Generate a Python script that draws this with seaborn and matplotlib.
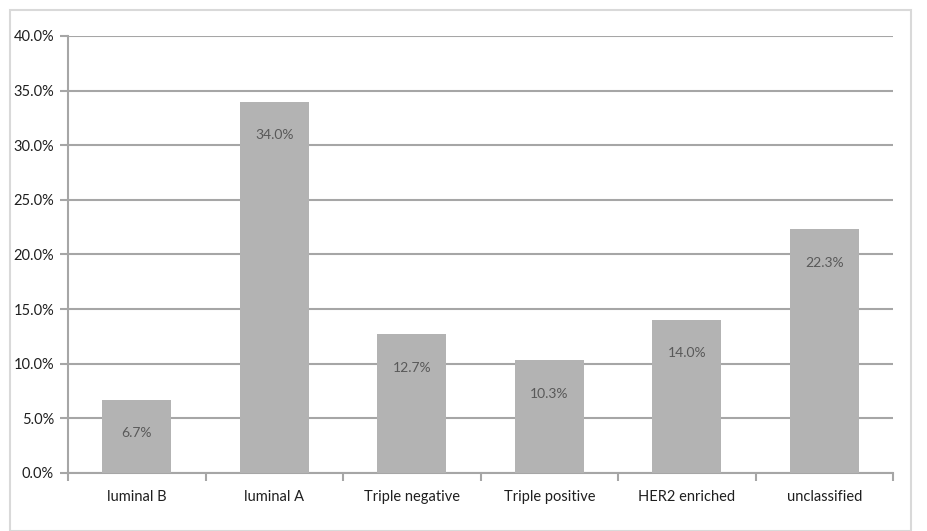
import matplotlib
matplotlib.use("Agg")
import matplotlib.pyplot as plt
from matplotlib.patches import Rectangle
from matplotlib.ticker import FuncFormatter, FixedLocator
import seaborn as sns
import pandas as pd

subtypes = ["luminal B", "luminal A", "Triple negative", "Triple positive",
            "HER2 enriched", "unclassified"]
percent = [6.7, 34.0, 12.7, 10.3, 14.0, 22.3]
y_ticks = [0, 5, 10, 15, 20, 25, 30, 35, 40]

df = pd.DataFrame({"subtype": subtypes, "percent": percent})

sns.set_theme(style="white")
plt.rcParams["font.family"] = ["Lato", "DejaVu Sans"]

fig = plt.figure(figsize=(9.27, 5.31), dpi=100)
fig.patch.set_facecolor("white")
ax = fig.add_axes([68 / 927, 1 - 473 / 531, 825 / 927, 437 / 531])

sns.barplot(data=df, x="subtype", y="percent", color="#b3b3b3",
            saturation=1, width=0.5, ax=ax, zorder=3)
for p in ax.patches:
    p.set_edgecolor("none")

ax.set_xlim(-0.5, len(subtypes) - 0.5)
ax.set_ylim(0, 40)
ax.set_yticks(y_ticks)
ax.yaxis.set_major_formatter(FuncFormatter(lambda v, _: f"{v:.1f}%"))
ax.grid(axis="y", color="#a6a6a6", linewidth=1.5, zorder=0)
ax.set_axisbelow(True)

# category separators on the x axis
ax.xaxis.set_minor_locator(FixedLocator([i - 0.5 for i in range(len(subtypes) + 1)]))
ax.tick_params(axis="x", which="major", length=0, pad=12, labelsize=10.5, labelcolor="#1f1f1f")
ax.tick_params(axis="x", which="minor", length=6, width=1.5, color="#a6a6a6", direction="out", bottom=True)
ax.tick_params(axis="y", which="major", length=6, width=1.5, color="#a6a6a6", direction="out",
               left=True, labelsize=10.5, labelcolor="#1f1f1f", pad=4)

ax.set_xlabel("")
ax.set_ylabel("")
for side in ("top", "right"):
    ax.spines[side].set_visible(False)
for side in ("left", "bottom"):
    ax.spines[side].set_color("#a6a6a6")
    ax.spines[side].set_linewidth(1.5)

# value labels inside the bars
for i, v in enumerate(percent):
    ax.annotate(f"{v:.1f}%", xy=(i, v), xytext=(0, -24), textcoords="offset points",
                ha="center", va="center", fontsize=10, color="#595959", zorder=4)

# chart frame
fig.patches.append(Rectangle((10 / 927, 0), 901 / 927, 1 - 10 / 531, transform=fig.transFigure,
                             fill=False, edgecolor="#d9d9d9", linewidth=1.5))

fig.savefig("out.png", dpi=100)
